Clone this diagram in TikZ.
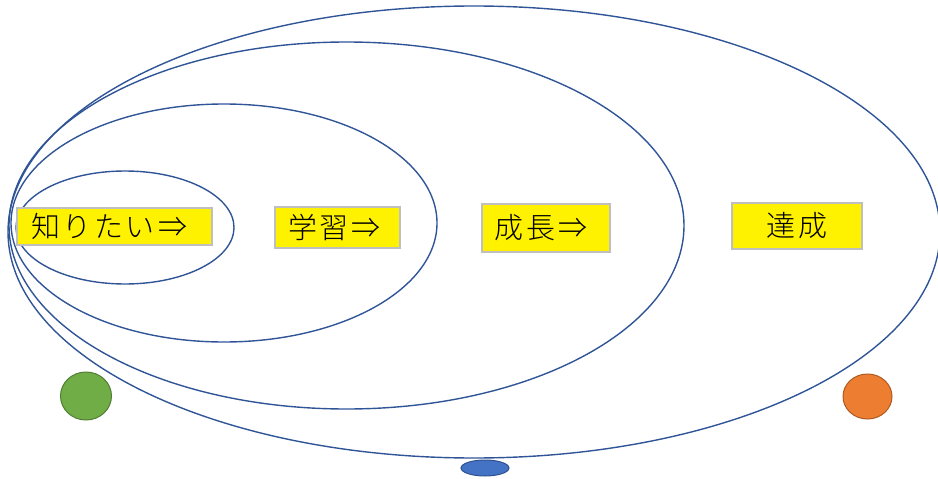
\documentclass[tikz,border=0pt]{standalone}
\usepackage{fontspec}
\usetikzlibrary{shapes.geometric}
\IfFontExistsTF{Noto Sans CJK JP Light}
  {\newfontfamily\cjk[LetterSpace=8]{Noto Sans CJK JP Light}}
  {\newfontfamily\cjk[LetterSpace=8]{Noto Sans CJK JP}}
\definecolor{ringblue}{HTML}{2F5597}
\definecolor{boxgray}{HTML}{BFBFBF}
\definecolor{gfill}{HTML}{70AD47}
\definecolor{gline}{HTML}{507E32}
\definecolor{bfill}{HTML}{4472C4}
\definecolor{bline}{HTML}{2F528F}
\definecolor{ofill}{HTML}{ED7D31}
\definecolor{oline}{HTML}{AE5A21}
\tikzset{
  ring/.style={draw=ringblue, line width=1.4pt},
  label box/.style={draw=boxgray, line width=1.2pt, fill=yellow, inner sep=0pt,
    font=\cjk\fontsize{29}{31}\selectfont, text=black},
  dot/.style={ellipse, line width=1pt, inner sep=0pt},
}
\newcommand{\lowtext}[1]{\raisebox{-3pt}{#1}}
\begin{document}
\begin{tikzpicture}[x=1pt,y=-1pt]
\useasboundingbox (0,0) rectangle (938,479);
% nested rings
\draw[ring] (474,232) ellipse [x radius=466pt, y radius=226pt];
\draw[ring] (346.5,225.5) ellipse [x radius=337.5pt, y radius=183.5pt];
\draw[ring] (224,223) ellipse [x radius=213pt, y radius=119pt];
\draw[ring] (125,227.5) ellipse [x radius=109pt, y radius=56.5pt];
% label boxes
\node[label box, minimum width=195pt, minimum height=37pt] (know) at (114.5,226.5) {\lowtext{知りたい\hspace{4pt}⇒\hspace{10pt}}};
\node[label box, minimum width=125pt, minimum height=41pt] (learn) at (337.5,227.5) {\lowtext{学習\hspace{3pt}⇒\hspace{6pt}}};
\node[label box, minimum width=128pt, minimum height=48pt] (grow) at (546,228) {\lowtext{成長\hspace{3pt}⇒\hspace{10pt}}};
\node[label box, minimum width=130pt, minimum height=46pt] (achieve) at (797,226) {\lowtext{達成}};
% dots
\node[dot, draw=gline, fill=gfill, minimum width=51pt, minimum height=48pt] (green) at (86,396) {};
\node[dot, draw=bline, fill=bfill, minimum width=48pt, minimum height=16pt] (blue) at (485,468) {};
\node[dot, draw=oline, fill=ofill, minimum width=49pt, minimum height=45pt] (orange) at (867.5,396.5) {};
\end{tikzpicture}
\end{document}
